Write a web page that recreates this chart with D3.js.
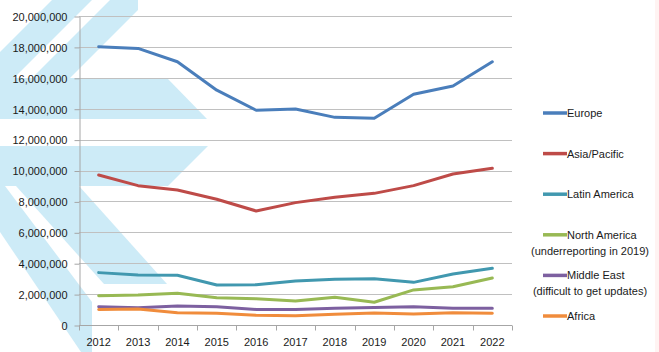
<!DOCTYPE html>
<html lang="en">
<head>
  <meta charset="UTF-8" />
  <title>Regional totals 2012-2022</title>
  <style>
    html, body {
      margin: 0;
      padding: 0;
      background: #fff;
      font-family: "Liberation Sans", Arial, sans-serif;
    }
    svg { display: block; }
    .grid line { stroke: #c0c0c0; stroke-width: 1px; }
    .axis path, .axis line { stroke: #a6a6a6; }
    .axis text { fill: #1a1a1a; font-size: 11px; }
    .series { fill: none; stroke-width: 3px; stroke-linejoin: round; stroke-linecap: round; }
    .legend text { fill: #1a1a1a; font-size: 11px; }
  </style>
</head>
<body>
  <svg width="659" height="352"></svg>
  <script src="https://d3js.org/d3.v7.min.js"></script>
  <script>
    const years = ['2012', '2013', '2014', '2015', '2016', '2017', '2018', '2019', '2020', '2021', '2022'];
    const yTicks = [0, 2e6, 4e6, 6e6, 8e6, 10e6, 12e6, 14e6, 16e6, 18e6, 20e6];

    const europe       = [18.01e6, 17.9e6, 17.04e6, 15.2e6, 13.9e6, 13.98e6, 13.44e6, 13.38e6, 14.93e6, 15.47e6, 17.04e6];
    const asiaPacific  = [9.71e6, 9.02e6, 8.74e6, 8.14e6, 7.38e6, 7.92e6, 8.27e6, 8.52e6, 9.02e6, 9.77e6, 10.14e6];
    const latinAmerica = [3.39e6, 3.24e6, 3.22e6, 2.59e6, 2.61e6, 2.85e6, 2.96e6, 3.0e6, 2.76e6, 3.3e6, 3.67e6];
    const northAmerica = [1.9e6, 1.94e6, 2.05e6, 1.77e6, 1.7e6, 1.55e6, 1.79e6, 1.47e6, 2.27e6, 2.48e6, 3.04e6];
    const middleEast   = [1.18e6, 1.12e6, 1.23e6, 1.18e6, 1.01e6, 1.01e6, 1.08e6, 1.14e6, 1.18e6, 1.08e6, 1.08e6];
    const africa       = [1.01e6, 1.03e6, 0.8e6, 0.76e6, 0.63e6, 0.6e6, 0.69e6, 0.78e6, 0.71e6, 0.8e6, 0.76e6];

    const seriesNames = ['Europe', 'Asia/Pacific', 'Latin America', 'North America', 'Middle East', 'Africa'];
    const seriesNotes = ['', '', '', '(underreporting in 2019)', '(difficult to get updates)', ''];
    const seriesValues = [europe, asiaPacific, latinAmerica, northAmerica, middleEast, africa];
    const seriesColors = ['#4a7ebb', '#be4b48', '#4198af', '#98b954', '#7d60a0', '#f08c3c'];

    const svg = d3.select("svg");

    // decorative chevrons behind the chart
    const shapes = [
      [[52, 0], [92, 0], [14, 78], [0, 78], [0, 52]],
      [[110, 0], [138, 0], [138, 10], [70, 78], [32, 78]],
      [[0, 78], [167, 78], [207, 119], [0, 119]],
      [[0, 146], [208, 146], [168, 186], [0, 186]],
      [[0, 186], [5, 186], [92, 302], [92, 352], [81, 352], [0, 232]],
      [[16, 186], [79, 186], [167, 284], [104, 284]]
    ];
    svg.append("g")
      .selectAll("polygon")
      .data(shapes)
      .join("polygon")
      .attr("points", d => d.map(p => p.join(",")).join(" "))
      .attr("fill", "#cdebf7");

    svg.append("rect")
      .attr("x", 655).attr("y", 0)
      .attr("width", 4).attr("height", 352)
      .attr("fill", "#fff3f2");

    const plotLeft = 79, plotRight = 512, plotTop = 16, plotBottom = 325;

    const x = d3.scaleBand().domain(years).range([plotLeft, plotRight]).padding(0);
    const y = d3.scaleLinear().domain([0, 20e6]).range([plotBottom, plotTop]);

    // gridlines
    svg.append("g")
      .attr("class", "grid")
      .selectAll("line")
      .data(yTicks.slice(1))
      .join("line")
      .attr("x1", plotLeft).attr("x2", plotRight)
      .attr("y1", d => Math.round(y(d)) + 0.5)
      .attr("y2", d => Math.round(y(d)) + 0.5);

    const yAxis = svg.append("g")
      .attr("class", "axis")
      .attr("transform", `translate(${plotLeft + 0.5},0.5)`)
      .call(d3.axisLeft(y).tickValues(yTicks).tickFormat(d3.format(",")).tickSize(5).tickSizeOuter(0).tickPadding(7));
    yAxis.selectAll("text").attr("dy", "0.35em");

    // x axis with ticks between categories
    const xAxis = svg.append("g")
      .attr("class", "axis")
      .attr("transform", `translate(0,${plotBottom + 0.5})`);
    xAxis.append("line")
      .attr("x1", plotLeft).attr("x2", plotRight);
    xAxis.selectAll(".tk")
      .data(years.concat(['end']))
      .join("line")
      .attr("class", "tk")
      .attr("x1", (d, i) => Math.round(plotLeft + i * x.bandwidth()) + 0.5)
      .attr("x2", (d, i) => Math.round(plotLeft + i * x.bandwidth()) + 0.5)
      .attr("y1", 0).attr("y2", 5);
    xAxis.selectAll("text")
      .data(years)
      .join("text")
      .attr("x", d => x(d) + x.bandwidth() / 2)
      .attr("y", 20)
      .attr("text-anchor", "middle")
      .text(d => d);

    const line = d3.line()
      .x((d, i) => x(years[i]) + x.bandwidth() / 2)
      .y(d => y(d));

    svg.append("g")
      .selectAll("path")
      .data(seriesValues)
      .join("path")
      .attr("class", "series")
      .attr("stroke", (d, i) => seriesColors[i])
      .attr("d", line);

    // legend
    const legend = svg.append("g").attr("class", "legend");
    const entry = legend.selectAll("g")
      .data(seriesNames)
      .join("g")
      .attr("transform", (d, i) => `translate(0,${113 + i * 40.6})`);
    entry.append("line")
      .attr("x1", 543).attr("x2", 567)
      .attr("stroke", (d, i) => seriesColors[i])
      .attr("stroke-width", 3.5);
    entry.append("text")
      .attr("x", 567).attr("y", 4)
      .text(d => d);
    entry.filter((d, i) => seriesNotes[i])
      .append("text")
      .attr("x", 590).attr("y", 20)
      .attr("text-anchor", "middle")
      .text(d => seriesNotes[seriesNames.indexOf(d)]);
  </script>
</body>
</html>
